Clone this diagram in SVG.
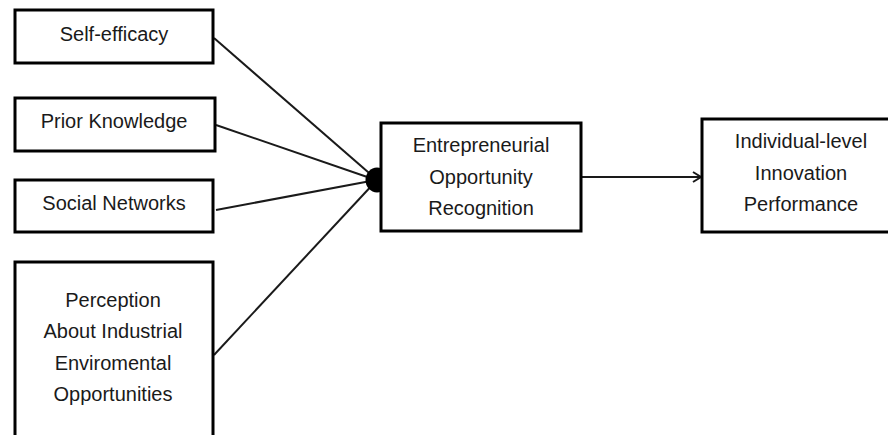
<svg xmlns="http://www.w3.org/2000/svg" width="888" height="435" viewBox="0 0 888 435">
<defs>
<style>
.box{fill:#fff;stroke:#000;stroke-width:3}
.t{font-family:"Liberation Sans",Arial,sans-serif;font-size:20px;fill:#1a1a1a;text-anchor:middle}
.c{stroke:#1a1a1a;stroke-width:2;fill:none}
</style>
<marker id="arr" markerWidth="12" markerHeight="12" refX="10" refY="6" orient="auto" markerUnits="userSpaceOnUse">
<path d="M2,1 L10,6 L2,11" fill="none" stroke="#1a1a1a" stroke-width="2"/>
</marker>
</defs>
<rect width="888" height="435" fill="#fff"/>
<g id="connectors">
<line class="c" x1="214" y1="38" x2="376" y2="179"/>
<line class="c" x1="216" y1="125" x2="376" y2="180"/>
<line class="c" x1="216" y1="210" x2="376" y2="180"/>
<line class="c" x1="214" y1="355" x2="376" y2="181"/>
<line class="c" x1="581" y1="177" x2="701" y2="177" marker-end="url(#arr)"/>
<ellipse cx="377" cy="180" rx="11.5" ry="12.5" fill="#000"/>
</g>
<g id="self-efficacy">
<rect class="box" x="15" y="10" width="198" height="53"/>
<text class="t" x="114" y="41">Self-efficacy</text>
</g>
<g id="prior-knowledge">
<rect class="box" x="15" y="98" width="200" height="53"/>
<text class="t" x="114" y="128">Prior Knowledge</text>
</g>
<g id="social-networks">
<rect class="box" x="15" y="180" width="198" height="52"/>
<text class="t" x="114" y="210">Social Networks</text>
</g>
<g id="perception">
<rect class="box" x="15" y="262" width="198" height="190"/>
<text class="t" x="113" y="307">Perception</text>
<text class="t" x="113" y="338">About Industrial</text>
<text class="t" x="113" y="370">Enviromental</text>
<text class="t" x="113" y="401">Opportunities</text>
</g>
<g id="eor">
<rect class="box" x="381" y="123" width="200" height="108"/>
<text class="t" x="481" y="152">Entrepreneurial</text>
<text class="t" x="481" y="184">Opportunity</text>
<text class="t" x="481" y="215">Recognition</text>
</g>
<g id="innovation">
<rect class="box" x="702" y="119" width="200" height="113"/>
<text class="t" x="801" y="148">Individual-level</text>
<text class="t" x="801" y="180">Innovation</text>
<text class="t" x="801" y="211">Performance</text>
</g>
</svg>
